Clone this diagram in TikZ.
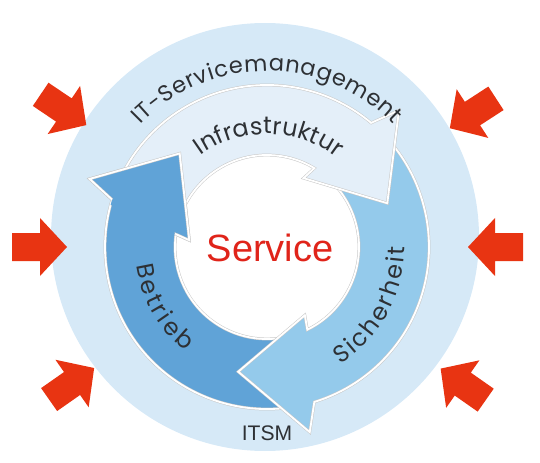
\documentclass[tikz,border=0pt]{standalone}
\usepackage{fontspec}
\setmainfont{Liberation Sans}
\newfontfamily\arcfont{Poppins}
\usetikzlibrary{decorations.text}

\definecolor{ringbg}{RGB}{214,233,247}
\definecolor{betriebblue}{RGB}{96,163,215}
\definecolor{sicherblue}{RGB}{148,202,235}
\definecolor{infrablue}{RGB}{228,239,249}
\definecolor{pushred}{RGB}{232,52,18}
\definecolor{servicered}{RGB}{224,36,26}
\definecolor{labelgray}{RGB}{45,48,52}

\tikzset{
  arrowshade/.style={draw=black!22,line width=2pt,line join=miter},
  arrowedge/.style={draw=white,line width=1.3pt,line join=miter},
  arclabel/.style={decorate,decoration={text along path,text align={fit to path},text={#1}}}
}

% curved arrow of the cycle: colour, tail angle, tip angle
\newcommand{\cyclearrow}[3]{%
  \pgfmathsetmacro{\arrbo}{#3+30}\pgfmathsetmacro{\arrwo}{#3+26}%
  \pgfmathsetmacro{\arrwi}{#3+42}\pgfmathsetmacro{\arrbi}{#3+39}%
  \fill[#1] (#2:162) arc[start angle=#2,end angle=\arrbo,radius=162] -- (\arrwo:190) -- (#3:128)
    -- (\arrwi:78) -- (\arrbi:92) arc[start angle=\arrbi,end angle=#2,radius=92] -- cycle;
  \foreach \edgestyle in {arrowshade,arrowedge}
    \draw[\edgestyle] (#2:162) arc[start angle=#2,end angle=\arrbo,radius=162] -- (\arrwo:190) -- (#3:128)
      -- (\arrwi:78) -- (\arrbi:92) arc[start angle=\arrbi,end angle=#2,radius=92];
}
% head only, drawn again on top
\newcommand{\cyclehead}[2]{%
  \pgfmathsetmacro{\arrbo}{#2+30}\pgfmathsetmacro{\arrwo}{#2+26}%
  \pgfmathsetmacro{\arrwi}{#2+42}\pgfmathsetmacro{\arrbi}{#2+39}%
  \pgfmathsetmacro{\arrbx}{#2+32}%
  \fill[#1] (\arrbx:162) arc[start angle=\arrbx,end angle=\arrbo,radius=162] -- (\arrwo:190) -- (#2:128)
    -- (\arrwi:78) -- (\arrbi:92) arc[start angle=\arrbi,end angle=\arrbx,radius=92] -- cycle;
  \foreach \edgestyle in {arrowshade,arrowedge}
    \draw[\edgestyle] (\arrbo:162) -- (\arrwo:190) -- (#2:128) -- (\arrwi:78) -- (\arrbi:92);
}

\begin{document}
\begin{tikzpicture}[x=0.025cm,y=0.025cm]
\useasboundingbox (0,0) rectangle (540,462);

\fill[ringbg] (265,225) circle[radius=214];

% pressure from outside
\foreach \ang/\dist in {0/201,33/218,146/218,180/200,215/211,325/212}
  \fill[pushred,shift={(267,215)},rotate=\ang,shift={(\dist,0)}]
    (0,0) -- (27,29) -- (27,14) -- (55,14) -- (55,-14) -- (27,-14) -- (27,-29) -- cycle;

\begin{scope}[shift={(267,215)}]
\fill[white,draw=black!10] (0,0) circle[radius=92];

\cyclearrow{betriebblue}{287}{133}
\cyclearrow{sicherblue}{50}{-103}
\cyclearrow{infrablue}{163}{20}
\cyclehead{betriebblue}{133}

\path[arclabel={|\arcfont\fontsize{16}{18}\selectfont\color{labelgray}|IT-Servicemanagement}]
  (136:176) arc[start angle=136,end angle=44,radius=176];
\path[arclabel={|\arcfont\fontsize{17}{19}\selectfont\color{labelgray}|Infrastruktur}]
  (126:113) arc[start angle=126,end angle=52,radius=113];
\path[arclabel={|\arcfont\fontsize{17}{19}\selectfont\color{labelgray}|Sicherheit}]
  (-58:138) arc[start angle=-58,end angle=0,radius=138];
\path[arclabel={|\arcfont\fontsize{17}{19}\selectfont\color{labelgray}|Betrieb}]
  (188:132) arc[start angle=188,end angle=232,radius=132];
\end{scope}

\node (service) at (270,200) [anchor=base,text=servicered,font=\fontsize{27}{30}\selectfont] {Service};
\node (itsm) at (267,22) [anchor=base,text=labelgray,font=\fontsize{15}{18}\selectfont] {ITSM};
\end{tikzpicture}
\end{document}
